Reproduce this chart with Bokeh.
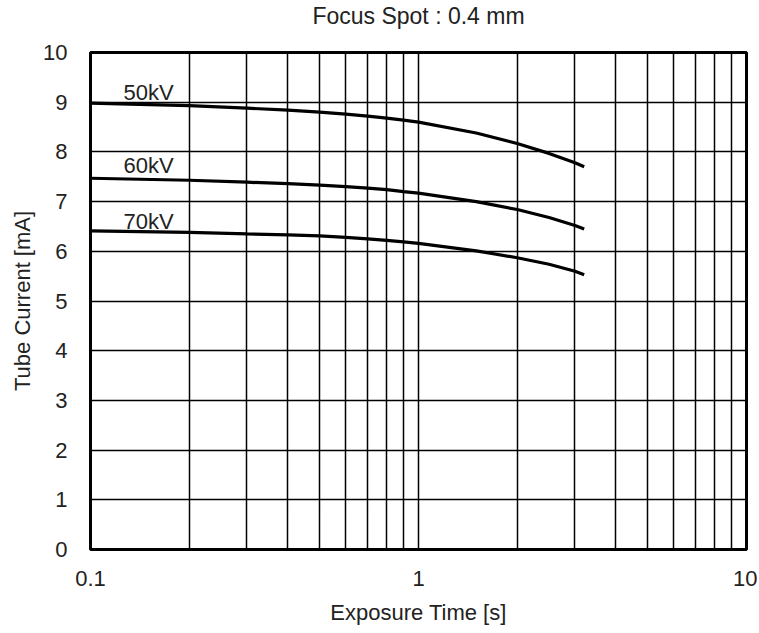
from bokeh.plotting import figure
from bokeh.models import FixedTicker, Range1d, Title
from bokeh.core.properties import value
from bokeh.embed import file_html
from bokeh.resources import INLINE

# Data
time_s = [0.1, 0.2, 0.3, 0.4, 0.5, 0.6, 0.7, 0.8, 0.9, 1.0, 1.5, 2.0, 2.5, 3.0, 3.2]
current_50kv = [8.98, 8.93, 8.88, 8.84, 8.80, 8.76, 8.72, 8.68, 8.64, 8.60, 8.38, 8.17, 7.97, 7.78, 7.70]
current_60kv = [7.47, 7.43, 7.39, 7.36, 7.33, 7.30, 7.27, 7.24, 7.20, 7.17, 7.00, 6.84, 6.68, 6.52, 6.45]
current_70kv = [6.41, 6.38, 6.35, 6.33, 6.31, 6.28, 6.25, 6.22, 6.19, 6.16, 6.01, 5.87, 5.74, 5.60, 5.53]
series_names = ["50kV", "60kV", "70kV"]
label_x = [0.126, 0.126, 0.126]
label_y = [9.2, 7.73, 6.6]
x_major_ticks = [0.1, 1, 10]
x_minor_ticks = [0.2, 0.3, 0.4, 0.5, 0.6, 0.7, 0.8, 0.9, 2, 3, 4, 5, 6, 7, 8, 9]
y_ticks = [0, 1, 2, 3, 4, 5, 6, 7, 8, 9, 10]
title_text = "Focus Spot : 0.4 mm"

FONT = "Liberation Sans"
TXT = "#222222"

p = figure(width=757, height=630, x_axis_type="log",
           x_range=Range1d(0.1, 10), y_range=Range1d(0, 10),
           output_backend="svg", toolbar_location=None,
           min_border_left=90, min_border_right=11, min_border_top=52, min_border_bottom=81)

# spacer between title and frame (nearest panel to the frame)
p.add_layout(Title(text=" ", text_font_size="2px", standoff=18), "above")
p.title = Title(text=title_text, align="center", vertical_align="top", text_font=FONT,
                text_font_size="23px", text_font_style="normal", text_color=TXT,
                standoff=0)

p.xaxis.ticker = FixedTicker(ticks=x_major_ticks, minor_ticks=x_minor_ticks)
p.yaxis.ticker = FixedTicker(ticks=y_ticks)
p.xaxis.major_label_overrides = {0.1: "0.1", 1: "1", 10: "10"}

for ax in (p.xaxis, p.yaxis):
    ax.axis_line_color = None
    ax.major_tick_line_color = None
    ax.minor_tick_line_color = None
    ax.major_label_text_font = FONT
    ax.major_label_text_font_size = "22px"
    ax.major_label_text_color = TXT
    ax.axis_label_text_font = FONT
    ax.axis_label_text_font_size = "22px"
    ax.axis_label_text_font_style = "normal"
    ax.axis_label_text_color = TXT

p.xaxis.axis_label = "Exposure Time [s]"
p.yaxis.axis_label = "Tube Current [mA]"
p.xaxis.major_label_standoff = 15
p.xaxis.axis_label_standoff = 11
p.yaxis.major_label_standoff = 17
p.yaxis.axis_label_standoff = 5

p.xgrid.grid_line_color = "black"
p.xgrid.grid_line_width = 1.5
p.xgrid.minor_grid_line_color = "black"
p.xgrid.minor_grid_line_width = 1.5
p.ygrid.grid_line_color = "black"
p.ygrid.grid_line_width = 1.5

p.outline_line_color = "black"
p.outline_line_width = 3
p.background_fill_color = "white"
p.border_fill_color = "white"

for ys in (current_50kv, current_60kv, current_70kv):
    p.line(time_s, ys, line_color="black", line_width=3.2)

p.text(x=label_x, y=label_y, text=series_names, text_font=value(FONT),
       text_font_size="22px", text_color=TXT, text_baseline="middle", text_align="left")

open("out.html", "w").write(file_html(p, INLINE))
